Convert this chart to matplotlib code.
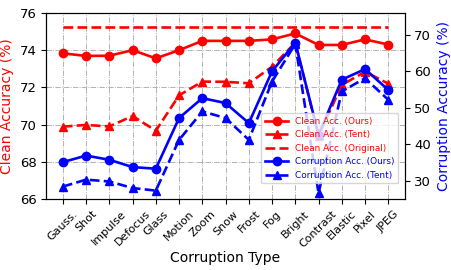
import matplotlib
matplotlib.use("Agg")
import matplotlib.pyplot as plt

corruptions = ["Gauss.", "Shot", "Impulse", "Defocus", "Glass", "Motion", "Zoom",
               "Snow", "Frost", "Fog", "Bright", "Contrast", "Elastic", "Pixel", "JPEG"]

clean_ours = [73.83, 73.69, 73.70, 74.00, 73.56, 74.00, 74.50, 74.50, 74.50,
              74.58, 74.90, 74.28, 74.28, 74.58, 74.30]
clean_tent = [69.89, 69.98, 69.90, 70.46, 69.67, 71.57, 72.31, 72.30, 72.22,
              73.11, 74.40, 69.40, 72.13, 72.84, 72.20]
clean_original = 75.23

corr_ours = [35.1, 36.9, 35.75, 33.75, 33.3, 47.2, 52.65, 51.3, 45.8,
             60.0, 67.9, 42.6, 57.7, 60.6, 54.9]
corr_tent = [28.4, 30.3, 29.8, 28.0, 27.3, 41.2, 49.0, 47.2, 41.2,
             57.2, 67.5, 26.6, 54.5, 58.1, 52.2]

x = list(range(len(corruptions)))

fig, ax = plt.subplots(figsize=(4.52, 2.7), dpi=100)
ax2 = ax.twinx()

l1, = ax.plot(x, clean_ours, color="r", marker="o", lw=1.9, ms=6, label="Clean Acc. (Ours)")
l2, = ax.plot(x, clean_tent, color="r", marker="^", ls="--", lw=1.9, ms=6, label="Clean Acc. (Tent)")
l3, = ax.plot(x, [clean_original] * len(x), color="r", ls="--", lw=1.9, label="Clean Acc. (Original)")
l4, = ax2.plot(x, corr_ours, color="b", marker="o", lw=1.9, ms=6, label="Corruption Acc. (Ours)")
l5, = ax2.plot(x, corr_tent, color="b", marker="^", ls="--", lw=1.9, ms=6, label="Corruption Acc. (Tent)")

ax.set_xlim(-0.72, 14.7)
ax.set_ylim(66, 76)
ax2.set_ylim(25, 76)
ax.set_yticks([66, 68, 70, 72, 74, 76])
ax2.set_yticks([30, 40, 50, 60, 70])

ax.set_xticks(x)
ax.set_xticklabels(corruptions, rotation=45, fontsize=8, ha="center")
ax.tick_params(axis="y", labelsize=9.5)
ax2.tick_params(axis="y", labelsize=9.5)
ax.grid(True, color="gray", ls="-.", lw=0.6, alpha=0.7)

ax.set_xlabel("Corruption Type", fontsize=10, labelpad=1)
ax.set_ylabel("Clean Accuracy (%)", color="r", fontsize=10)
ax2.set_ylabel("Corruption Accuracy (%)", color="b", fontsize=10)

leg = ax2.legend(handles=[l1, l2, l3, l4, l5], loc="lower right",
                 bbox_to_anchor=(0.995, 0.06), fontsize=6.4, handlelength=2.6,
                 framealpha=0.8)
for text, line in zip(leg.get_texts(), [l1, l2, l3, l4, l5]):
    text.set_color(line.get_color())

plt.subplots_adjust(left=0.102, right=0.895, top=0.952, bottom=0.263)
plt.savefig("out.png", dpi=100)
